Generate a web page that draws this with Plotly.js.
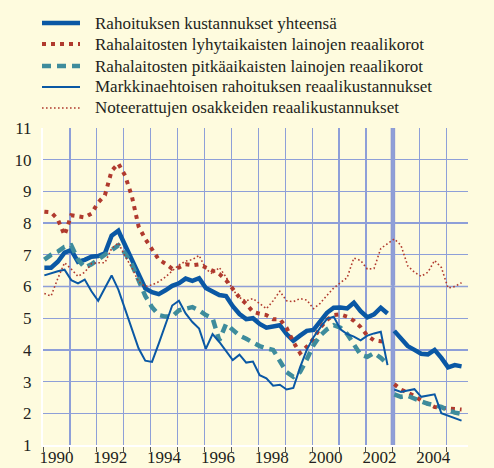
<!DOCTYPE html>
<html><head><meta charset="utf-8">
<script src="https://cdn.plot.ly/plotly-3.0.1.min.js"></script>
<style>
html,body{margin:0;padding:0;background:#FEFBDE;}
</style>
</head><body><div id="chart" style="width:494px;height:468px;"></div>
<script>
// Quarters 1990Q1 .. 2005Q3
const quarters = ["1990Q1","1990Q2","1990Q3","1990Q4","1991Q1","1991Q2","1991Q3","1991Q4","1992Q1","1992Q2","1992Q3","1992Q4","1993Q1","1993Q2","1993Q3","1993Q4","1994Q1","1994Q2","1994Q3","1994Q4","1995Q1","1995Q2","1995Q3","1995Q4","1996Q1","1996Q2","1996Q3","1996Q4","1997Q1","1997Q2","1997Q3","1997Q4","1998Q1","1998Q2","1998Q3","1998Q4","1999Q1","1999Q2","1999Q3","1999Q4","2000Q1","2000Q2","2000Q3","2000Q4","2001Q1","2001Q2","2001Q3","2001Q4","2002Q1","2002Q2","2002Q3","2002Q4","2003Q1","2003Q2","2003Q3","2003Q4","2004Q1","2004Q2","2004Q3","2004Q4","2005Q1","2005Q2","2005Q3"];
const breakIndex = 52; // new statistics from 2003Q1
const breakYear = 2003;

const seriesNames = [
  "Rahoituksen kustannukset yhteensä",
  "Rahalaitosten lyhytaikaisten lainojen reaalikorot",
  "Rahalaitosten pitkäaikaisten lainojen reaalikorot",
  "Markkinaehtoisen rahoituksen reaalikustannukset",
  "Noteerattujen osakkeiden reaalikustannukset"
];

const total = [6.59,6.59,6.78,7.07,7.15,6.78,6.84,6.94,6.96,7.05,7.6,7.76,7.3,6.85,6.36,5.94,5.82,5.76,5.88,6.02,6.1,6.25,6.18,6.26,5.95,5.85,5.73,5.7,5.38,5.13,4.97,5.0,4.82,4.7,4.74,4.78,4.5,4.29,4.45,4.6,4.63,4.9,5.17,5.33,5.34,5.31,5.49,5.22,5.03,5.12,5.33,5.15,
  4.6,4.35,4.12,4.0,3.88,3.86,4.0,3.75,3.45,3.52,3.48];
const shortTerm = [8.36,8.34,8.12,7.62,8.25,8.22,8.18,8.3,8.65,8.88,9.65,9.88,9.5,8.85,7.9,7.5,7.15,6.85,6.72,6.56,6.6,6.7,6.67,6.7,6.6,6.5,6.4,6.2,5.9,5.65,5.45,5.2,5.14,5.1,4.97,4.97,4.7,4.25,3.9,4.1,4.35,4.7,4.95,5.1,5.12,5.05,4.92,4.72,4.45,4.3,4.27,4.25,
  2.92,2.75,2.65,2.55,2.4,2.3,2.2,2.17,2.15,2.14,2.12];
const longTerm = [6.85,7.0,7.1,7.25,7.3,6.85,6.6,6.7,6.85,7.0,7.15,7.3,7.05,6.7,6.2,5.7,5.35,5.1,5.05,5.05,5.25,5.3,5.35,5.25,5.1,5.0,4.3,4.82,4.65,4.45,4.35,4.22,4.12,4.05,4.0,3.65,3.3,3.15,3.3,3.7,4.15,4.45,4.65,4.78,4.7,4.5,4.2,3.85,3.78,3.9,3.75,3.55,
  2.6,2.52,2.55,2.45,2.38,2.3,2.25,2.2,2.1,2.02,1.98];
const marketBased = [6.35,6.42,6.48,6.53,6.2,6.1,6.22,5.85,5.55,5.95,6.35,5.9,5.3,4.7,4.05,3.66,3.62,4.2,4.8,5.4,5.55,5.15,4.88,4.67,4.03,4.5,4.25,3.95,3.68,3.85,3.6,3.63,3.2,3.1,2.87,2.9,2.75,2.8,3.45,4.0,4.4,4.7,4.98,5.05,4.65,4.5,4.42,4.3,4.45,4.52,4.57,3.52,
  2.75,2.67,2.72,2.76,2.52,2.56,2.6,2.0,1.93,1.85,1.77];
const shares = [5.78,5.7,6.25,6.75,6.55,6.32,6.45,6.72,6.75,6.75,7.2,7.38,6.95,6.6,6.15,6.0,6.05,6.15,6.3,6.5,6.68,6.8,6.85,6.98,6.55,6.4,6.6,6.3,5.9,5.65,5.55,5.62,5.45,5.3,5.55,5.85,5.55,5.52,5.62,5.57,5.3,5.47,5.72,5.95,6.12,6.28,6.9,6.82,6.55,6.57,7.2,7.35,7.5,7.3,6.65,6.45,6.32,6.45,6.82,6.6,5.95,6.0,6.12];

const gridYears = [1990,1991,1992,1993,1994,1995,1996,1997,1998,1999,2000,2001,2002,2003,2004,2005];
const tickYears = ["1990","1992","1994","1996","1998","2000","2002","2004"];
const yTicks = [1,2,3,4,5,6,7,8,9,10,11];

// time axis position of each quarter
const xq = quarters.map(q => parseInt(q.slice(0,4)) + (parseInt(q.slice(5)) - 1) / 4 + 0.05);

const BLUE = '#0A58A4', RED = '#B03A2E', TEAL = '#3E8C9C', GRID = '#8E9FD8';
const styles = [
  {color: BLUE, width: 4.5, dash: 'solid'},
  {color: RED, width: 4, dash: '4px,5px'},
  {color: TEAL, width: 4.5, dash: '9px,6px'},
  {color: BLUE, width: 2, dash: 'solid'},
  {color: RED, width: 1.6, dash: '1.6px,2.4px'}
];
const data = [];
const splitSeries = [total, shortTerm, longTerm, marketBased];
splitSeries.forEach((s, k) => {
  data.push({x: xq.slice(0, breakIndex), y: s.slice(0, breakIndex), mode: 'lines', line: styles[k], name: seriesNames[k], showlegend: false, hoverinfo: 'skip'});
  data.push({x: xq.slice(breakIndex), y: s.slice(breakIndex), mode: 'lines', line: styles[k], name: seriesNames[k], showlegend: false, hoverinfo: 'skip'});
});
// shares series drawn on the label axis (same range as the grid axis)
data.push({x: xq, y: shares, xaxis: 'x2', yaxis: 'y', mode: 'lines', line: styles[4], name: seriesNames[4], showlegend: false, hoverinfo: 'skip'});

// pixel helpers for the manual legend (plot area: left 43, width 425, top 128, height 317)
const L = 43, W = 425, T = 128, H = 317;
const px = p => (p - L) / W;
const py = p => (T + H - p) / H;

const FONT = {family: 'Liberation Serif', size: 17, color: '#231f20'};
const shapes = [
  {type: 'line', xref: 'x', yref: 'paper', x0: breakYear, x1: breakYear, y0: 0, y1: 1, line: {color: '#8E9BD3', width: 4.5}, layer: 'between'},
  {type: 'line', xref: 'paper', yref: 'y', x0: 0, x1: 1, y0: 6, y1: 6, line: {color: '#C6C9D6', width: 2}, layer: 'between'}
];
const rowsY = [23, 44, 66, 87, 108];
const annotations = [];
seriesNames.forEach((n, k) => {
  shapes.push({type: 'line', xref: 'paper', yref: 'paper', x0: px(42), x1: px(80), y0: py(rowsY[k]), y1: py(rowsY[k]), line: styles[k]});
  annotations.push({xref: 'paper', yref: 'paper', x: px(93), y: py(rowsY[k]), xanchor: 'left', yanchor: 'middle', text: n, showarrow: false, font: FONT});
});

const XRANGE = [1990, 2005.79];
const layout = {
  width: 494, height: 468,
  margin: {l: 43, r: 26, t: 128, b: 23, pad: 0},
  paper_bgcolor: '#FEFBDE', plot_bgcolor: '#FEFBDE',
  showlegend: false,
  font: FONT,
  xaxis: {
    range: XRANGE, tickmode: 'array', tickvals: gridYears, showticklabels: false,
    showgrid: true, gridcolor: GRID, gridwidth: 1.3,
    ticks: 'outside', ticklen: 5, tickcolor: '#555', tickwidth: 1,
    showline: true, linecolor: '#ffffff', linewidth: 2,
    zeroline: false, fixedrange: true
  },
  xaxis2: {
    range: XRANGE, overlaying: 'x', side: 'bottom', anchor: 'y',
    tickmode: 'array', tickvals: tickYears.map(y => parseInt(y) + 0.5), ticktext: tickYears,
    showgrid: false, ticks: '', 
    showline: false, zeroline: false, tickfont: FONT, fixedrange: true
  },
  yaxis: {
    range: [1, 11], tickmode: 'array', tickvals: yTicks,
    showgrid: true, gridcolor: GRID, gridwidth: 1.3,
    ticks: 'outside', ticklen: 6, tickcolor: 'rgba(0,0,0,0)',
    showline: true, linecolor: '#ffffff', linewidth: 2,
    zeroline: false, tickfont: FONT, fixedrange: true
  },
  yaxis2: {
    range: [1, 11], tickmode: 'array', tickvals: yTicks, overlaying: 'y', side: 'right',
    showgrid: false, ticks: 'outside', ticklen: 6, tickcolor: 'rgba(0,0,0,0)',
    showline: true, linecolor: '#231f20', linewidth: 1.5,
    zeroline: false, tickfont: FONT, fixedrange: true
  },
  shapes: shapes,
  annotations: annotations
};
Plotly.newPlot('chart', data, layout, {staticPlot: true});
</script></body></html>
